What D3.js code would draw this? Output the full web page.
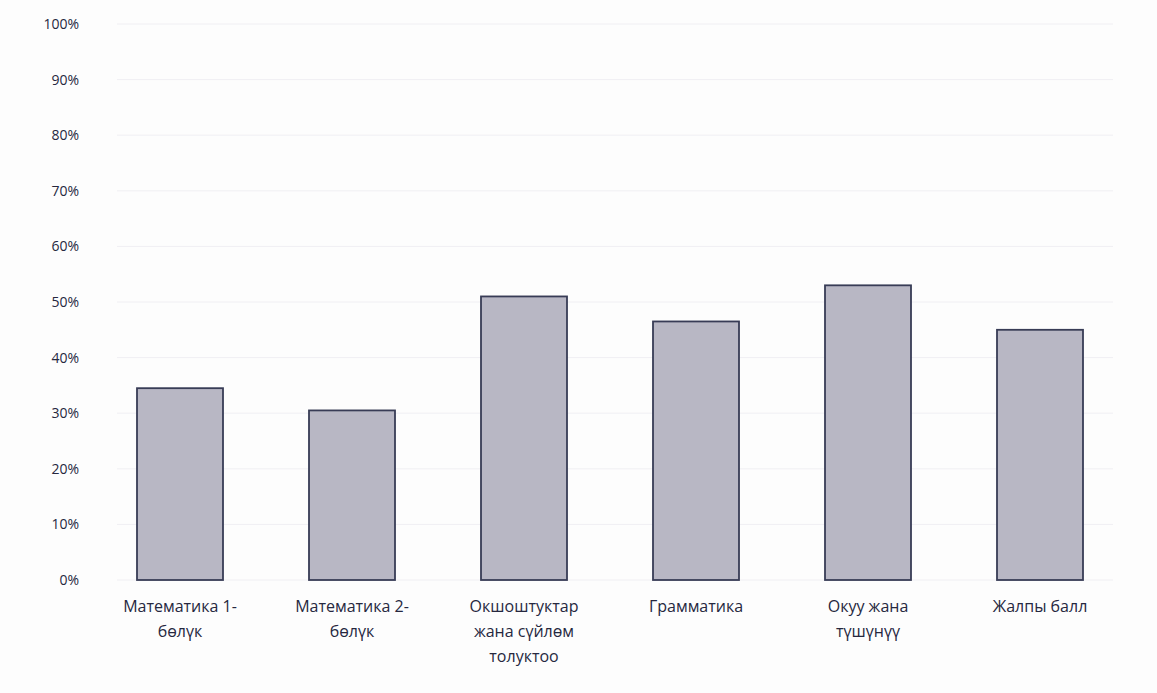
<!DOCTYPE html>
<html>
<head>
<meta charset="utf-8">
<script src="https://cdn.jsdelivr.net/npm/d3@7"></script>
<style>
  body { margin: 0; background: #fdfdfd; }
  text { font-family: "Open Sans", "Noto Sans", sans-serif; fill: #26283f; }
</style>
</head>
<body>
<div id="chart"></div>
<script>
// data
const categories = [
  ["Математика 1-", "бөлүк"],
  ["Математика 2-", "бөлүк"],
  ["Окшоштуктар", "жана сүйлөм", "толуктоо"],
  ["Грамматика"],
  ["Окуу жана", "түшүнүү"],
  ["Жалпы балл"]
];
const values = [0.345, 0.305, 0.51, 0.465, 0.53, 0.45];
const yTicks = [0, 0.1, 0.2, 0.3, 0.4, 0.5, 0.6, 0.7, 0.8, 0.9, 1];

const width = 1157;
const height = 693;
const margin = {top: 24, right: 74, bottom: 113, left: 137};

const svg = d3.select("#chart")
  .append("svg")
  .attr("width", width)
  .attr("height", height);

const g = svg.append("g")
  .attr("transform", `translate(${margin.left},${margin.top})`);

const w = width - margin.left - margin.right;
const h = height - margin.top - margin.bottom;

const x = d3.scaleBand()
  .domain(d3.range(categories.length))
  .range([0, w])
  .paddingInner(0.5)
  .paddingOuter(0);

const y = d3.scaleLinear()
  .domain([0, 1])
  .range([h, 0]);

// faint gridlines
g.append("g")
  .selectAll("line")
  .data(yTicks)
  .enter()
  .append("line")
  .attr("x1", -20)
  .attr("x2", w + 30)
  .attr("y1", d => y(d))
  .attr("y2", d => y(d))
  .attr("stroke", "#f0eff3")
  .attr("stroke-width", 1);

// y axis labels
const yAxis = g.append("g")
  .call(d3.axisLeft(y).tickValues(yTicks).tickFormat(d3.format(".0%")).tickSize(0).tickPadding(58));
yAxis.select(".domain").remove();
yAxis.selectAll("text")
  .style("font-size", "14px")
  .attr("fill", "#26283f");

// bars
g.append("g")
  .selectAll("rect")
  .data(values)
  .enter()
  .append("rect")
  .attr("x", (d, i) => x(i))
  .attr("y", d => y(d))
  .attr("width", x.bandwidth())
  .attr("height", d => h - y(d))
  .attr("fill", "#b8b7c4")
  .attr("stroke", "#383c56")
  .attr("stroke-width", 1.8);

// x labels, wrapped
const labels = g.append("g")
  .selectAll("text")
  .data(categories)
  .enter()
  .append("text")
  .attr("text-anchor", "middle")
  .attr("transform", (d, i) => `translate(${x(i) + x.bandwidth() / 2},${h + 32})`)
  .style("font-size", "16px");

labels.selectAll("tspan")
  .data(d => d)
  .enter()
  .append("tspan")
  .attr("x", 0)
  .attr("dy", (d, i) => i === 0 ? 0 : 25)
  .text(d => d);
</script>
</body>
</html>
